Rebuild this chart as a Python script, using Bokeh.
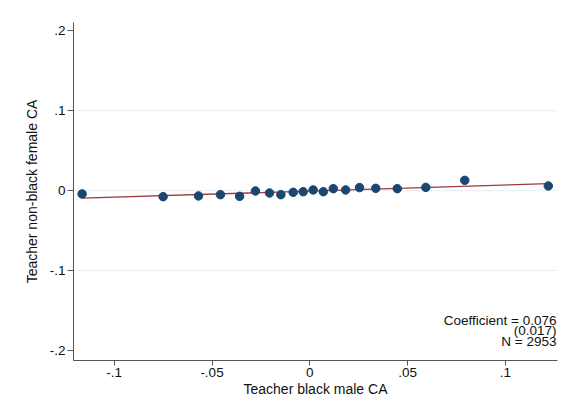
from bokeh.plotting import figure
from bokeh.models import Range1d, FixedTicker, Label, Span, ColumnDataSource
from bokeh.embed import file_html
from bokeh.resources import INLINE

# Binned scatter data
bin_x = [-0.1164, -0.0750, -0.0569, -0.0457, -0.0359, -0.0278, -0.0206, -0.0148, -0.0085, -0.0034,
         0.0017, 0.0069, 0.0120, 0.0183, 0.0254, 0.0337, 0.0447, 0.0593, 0.0792, 0.1219]
bin_y = [-0.0041, -0.0075, -0.0066, -0.0050, -0.0071, -0.0004, -0.0029, -0.0050, -0.0021, -0.0013,
         0.0009, -0.0013, 0.0025, 0.0009, 0.0038, 0.0029, 0.0025, 0.0041, 0.0129, 0.0059]

fit_slope = 0.076
fit_intercept = -0.0005

x_ticks = [-0.1, -0.05, 0.0, 0.05, 0.1]
x_tick_labels = ["-.1", "-.05", "0", ".05", ".1"]
y_ticks = [-0.2, -0.1, 0.0, 0.1, 0.2]
y_tick_labels = ["-.2", "-.1", "0", ".1", ".2"]
grid_values = [-0.1, 0.0, 0.1]

annotation_lines = ["Coefficient = 0.076", "(0.017)", "N = 2953"]
annotation_y = [-0.1625, -0.1755, -0.1890]

FONT = "Liberation Sans"
FS = "13.5px"
FS_TITLE = "14px"

p = figure(width=561, height=413, output_backend="svg", toolbar_location=None,
           x_range=Range1d(-0.1208, 0.1266), y_range=Range1d(-0.2125, 0.2104),
           min_border_left=73, min_border_right=4, min_border_top=22, min_border_bottom=53)
p.outline_line_color = None
p.background_fill_color = "white"
p.border_fill_color = "white"
p.xgrid.visible = False
p.ygrid.visible = False

for g in grid_values:
    p.add_layout(Span(location=g, dimension="width", line_color="#e6eef2", line_width=1, level="underlay"))

# fit line
fx = [min(bin_x), max(bin_x)]
fy = [fit_intercept + fit_slope * v for v in fx]
p.line(fx, fy, line_color="#9c3a40", line_width=1.3)

src = ColumnDataSource(dict(x=bin_x, y=bin_y))
p.scatter("x", "y", source=src, size=8.5, fill_color="#1a476f", line_color="#1a476f")

for ax in (p.xaxis[0], p.yaxis[0]):
    ax.axis_line_color = "#555555"
    ax.major_tick_line_color = "#555555"
    ax.minor_tick_line_color = None
    ax.major_tick_in = 0
    ax.major_label_text_font = FONT
    ax.major_label_text_font_size = FS
    ax.major_label_text_color = "#111111"
    ax.axis_label_text_font = FONT
    ax.axis_label_text_font_size = FS_TITLE
    ax.axis_label_text_font_style = "normal"
    ax.axis_label_text_color = "#111111"

p.xaxis.ticker = FixedTicker(ticks=x_ticks)
p.xaxis.major_label_overrides = {t: l for t, l in zip(x_ticks, x_tick_labels)}
p.xaxis.major_tick_out = 5
p.xaxis.major_label_standoff = 2
p.xaxis.axis_label = "Teacher black male CA"
p.xaxis.axis_label_standoff = 1

p.yaxis.ticker = FixedTicker(ticks=y_ticks)
p.yaxis.major_label_overrides = {t: l for t, l in zip(y_ticks, y_tick_labels)}
p.yaxis.major_label_orientation = "horizontal"
p.yaxis.major_tick_out = 6
p.yaxis.major_label_standoff = 2
p.yaxis.axis_label = "Teacher non-black female CA"
p.yaxis.axis_label_standoff = 7

for txt, yy in zip(annotation_lines, annotation_y):
    p.add_layout(Label(x=0.1261, y=yy, text=txt, text_align="right", text_baseline="middle",
                       text_font=FONT, text_font_size=FS, text_color="#111111"))

open("out.html", "w").write(file_html(p, INLINE))
